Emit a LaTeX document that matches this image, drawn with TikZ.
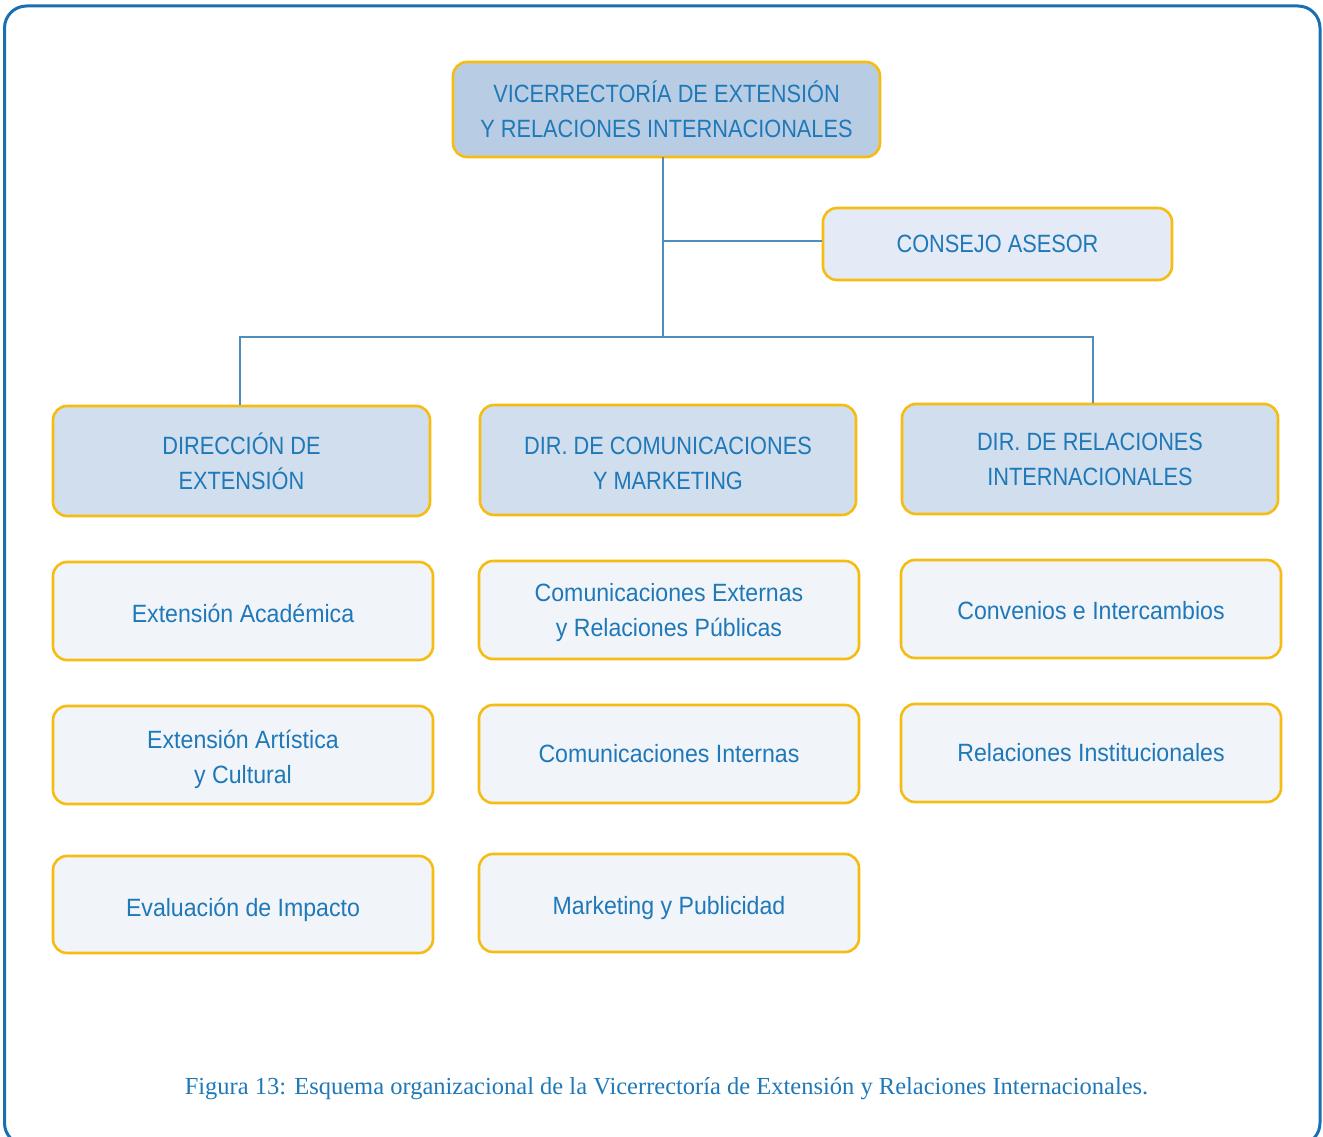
\documentclass[tikz,border=0pt]{standalone}
\usepackage{fontspec}
\setmainfont{Liberation Serif}
\newfontfamily\boxfont[FakeStretch=0.87]{Liberation Sans}
\newfontfamily\leaffont[FakeStretch=0.925]{Liberation Sans}
\newcommand{\lowertxt}[2]{\raisebox{-#1}[\height][\depth]{#2}}
\definecolor{txtblue}{HTML}{1F78B8}
\definecolor{frameblue}{HTML}{1A6FB2}
\definecolor{linkblue}{HTML}{4F8DBD}
\definecolor{bordery}{HTML}{F7BC12}
\definecolor{fillA}{HTML}{B8CDE4}
\definecolor{fillB}{HTML}{D0DEED}
\definecolor{fillC}{HTML}{E4EBF6}
\definecolor{fillD}{HTML}{F1F5FA}
\tikzset{
  base/.style={draw=bordery, line width=2.6pt, rounded corners=14pt, align=center,
    text=txtblue, font=\boxfont\fontsize{25}{35}\selectfont, inner sep=0pt},
  topbox/.style={base, fill=fillA},
  dirbox/.style={base, fill=fillB},
  conbox/.style={base, fill=fillC},
  leafbox/.style={base, fill=fillD, font=\leaffont\fontsize{25}{35}\selectfont},
  link/.style={draw=linkblue, line width=1.4pt},
}
\begin{document}
\begin{tikzpicture}[x=1pt,y=-1pt]
\useasboundingbox (0,0) rectangle (1323,1137);
\begin{scope}
\clip (0,0) rectangle (1323,1137);
\draw[frameblue, line width=3pt, rounded corners=22pt] (4.5,6) rectangle (1320,1145);
\end{scope}
% boxes
\node[topbox, minimum width=427pt, minimum height=95pt] (top) at (666.5,109.5) {VICERRECTORÍA DE EXTENSIÓN\\Y RELACIONES INTERNACIONALES};
\node[conbox, minimum width=349pt, minimum height=72pt] (con) at (997.5,244) {CONSEJO ASESOR};
\node[dirbox, minimum width=377pt, minimum height=110pt] (d1) at (241.5,461) {DIRECCIÓN DE\\EXTENSIÓN};
\node[dirbox, minimum width=376pt, minimum height=110pt] (d2) at (668,460) {\lowertxt{3pt}{DIR. DE COMUNICACIONES}\\\lowertxt{3pt}{Y MARKETING}};
\node[dirbox, minimum width=376pt, minimum height=110pt] (d3) at (1090,459) {DIR. DE RELACIONES\\INTERNACIONALES};
\node[leafbox, minimum width=380pt, minimum height=98pt] (a1) at (243,611) {\lowertxt{2pt}{Extensión Académica}};
\node[leafbox, minimum width=380pt, minimum height=98pt] (a2) at (243,755) {\lowertxt{4pt}{Extensión Artística}\\\lowertxt{4pt}{y Cultural}};
\node[leafbox, minimum width=380pt, minimum height=97pt] (a3) at (243,904.5) {\lowertxt{5pt}{Evaluación de Impacto}};
\node[leafbox, minimum width=380pt, minimum height=98pt] (b1) at (669,610) {\lowertxt{3pt}{Comunicaciones Externas}\\\lowertxt{3pt}{y Relaciones Públicas}};
\node[leafbox, minimum width=380pt, minimum height=98pt] (b2) at (669,754) {Comunicaciones Internas};
\node[leafbox, minimum width=380pt, minimum height=98pt] (b3) at (669,903) {\lowertxt{5pt}{Marketing y Publicidad}};
\node[leafbox, minimum width=380pt, minimum height=98pt] (c1) at (1091,609) {\lowertxt{2pt}{Convenios e Intercambios}};
\node[leafbox, minimum width=380pt, minimum height=98pt] (c2) at (1091,753) {Relaciones Institucionales};
% connectors
\coordinate (hub) at (663,337);
\coordinate (mid) at (663,241);
\draw[link] (663,157) -- (hub);
\draw[link] (mid) -- (con.west |- mid);
\draw[link] (d1.north -| 240,0) |- (hub) -| (d3.north -| 1093,0);
% caption
\node[text=txtblue, font=\fontsize{24.5}{28}\selectfont, anchor=base] (cap) at (666.5,1094) {Figura 13: Esquema organizacional de la Vicerrectoría de Extensión y Relaciones Internacionales.};
\end{tikzpicture}
\end{document}
